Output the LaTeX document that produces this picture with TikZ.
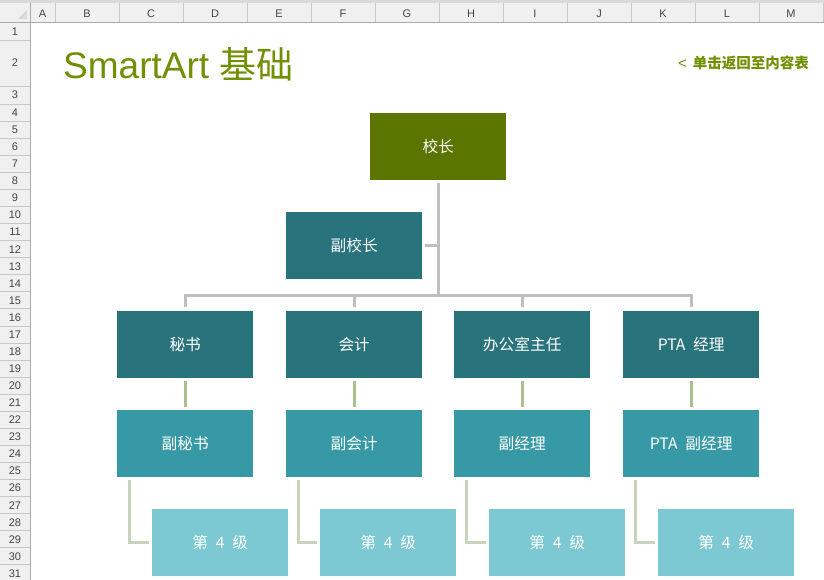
\documentclass[tikz,border=0pt]{standalone}
\usepackage{fontspec}
\setmainfont{Liberation Sans}
\newfontfamily\cjk[WordSpace=2.2]{Noto Sans CJK SC}
\definecolor{topband}{HTML}{DADADA}
\definecolor{hdrbg}{HTML}{F0F0F0}
\definecolor{hdrsep}{HTML}{C8C8C8}
\definecolor{hdrborder}{HTML}{ABABAB}
\definecolor{hdrtext}{HTML}{444444}
\definecolor{titlegreen}{HTML}{6F9000}
\definecolor{lvlA}{HTML}{5A7500}
\definecolor{lvlB}{HTML}{29737C}
\definecolor{lvlC}{HTML}{3799A5}
\definecolor{lvlD}{HTML}{7DC9D3}
\definecolor{conngray}{HTML}{BFBFBF}
\definecolor{conngreen}{HTML}{A9BF8F}
\definecolor{connlight}{HTML}{C8D3BB}
\tikzset{
  box/.style={anchor=north west, minimum width=136pt, minimum height=67pt, inner sep=0pt, draw=none, text=white, font=\cjk\fontsize{15.7}{18}\selectfont},
  boxA/.style={box, fill=lvlA},
  boxB/.style={box, fill=lvlB},
  boxC/.style={box, fill=lvlC},
  boxD/.style={box, fill=lvlD},
  conn/.style={draw=conngray, line width=3pt, line join=miter},
  gconn/.style={draw=conngreen, line width=3pt},
  lconn/.style={draw=connlight, line width=3pt, line join=miter},
  hdrlabel/.style={text=hdrtext, font=\fontsize{11}{12}\selectfont, inner sep=0pt}
}
\begin{document}
\begin{tikzpicture}[x=1pt,y=-1pt]
\useasboundingbox (0,0) rectangle (824,580);
\fill[white] (0,0) rectangle (824,580);
% sheet chrome
\fill[topband] (0,0) rectangle (824,3.5);
\fill[hdrbg] (0,3.5) rectangle (824,23);
\fill[hdrbg] (0,23) rectangle (30,580);
\foreach \xx in {55,119,183,247,311,375,439,503,567,631,695,759,823}
  \draw[hdrsep, line width=0.8pt] (\xx,3.5) -- (\xx,23);
\draw[hdrsep, line width=0.8pt] (0,40) -- (30,40);
\draw[hdrsep, line width=0.8pt] (0,86) -- (30,86);
\foreach \n in {0,...,27}
  \draw[hdrsep, line width=0.8pt] (0,{104+\n*17.07}) -- (30,{104+\n*17.07});
\draw[hdrborder, line width=1pt] (0,23) -- (824,23);
\draw[hdrborder, line width=1pt] (30,3.5) -- (30,580);
\fill[hdrsep!80!black!40] (27,10) -- (27,19) -- (18,19) -- cycle;
% column letters
\node[hdrlabel] (colA) at (42.5,13.5) {A};
\foreach \c [count=\i from 0] in {B,C,D,E,F,G,H,I,J,K,L,M}
  \node[hdrlabel] (col\c) at ({87+64*\i},13.5) {\c};
% row numbers
\node[hdrlabel] (row1) at (15,31.5) {1};
\node[hdrlabel] (row2) at (15,63) {2};
\node[hdrlabel] (row3) at (15,95) {3};
\foreach \n in {4,...,31}
  \node[hdrlabel] (row\n) at (15,{104+(\n-4)*17.07+8.6}) {\n};
% title and link
\node[anchor=base west, inner sep=0pt, text=titlegreen, font=\fontsize{37}{40}\selectfont] (title) at (63,79) {SmartArt {\cjk 基础}};
\node[anchor=east, inner sep=0pt, text=titlegreen, font=\cjk\bfseries\fontsize{14.5}{16}\selectfont] (link) at (809,62.5) {{\normalfont\fontsize{15}{16}\selectfont <}\hspace{6pt}单击返回至内容表};
% boxes
\node[boxA] (p) at (370,113) {校长};
\node[boxB] (v) at (286,212) {副校长};
\node[boxB] (b1) at (117,311) {秘书};
\node[boxB] (b2) at (286,311) {会计};
\node[boxB] (b3) at (454,311) {办公室主任};
\node[boxB] (b4) at (623,311) {PTA 经理};
\node[boxC] (c1) at (117,410) {副秘书};
\node[boxC] (c2) at (286,410) {副会计};
\node[boxC] (c3) at (454,410) {副经理};
\node[boxC] (c4) at (623,410) {PTA 副经理};
\node[boxD] (d1) at (152,509) {第 4 级};
\node[boxD] (d2) at (320,509) {第 4 级};
\node[boxD] (d3) at (489,509) {第 4 级};
\node[boxD] (d4) at (658,509) {第 4 级};
% connectors
\coordinate (bus) at (438,295.5);
\draw[conn] ([yshift=-3pt]p.south) -- (p.south |- bus);
\draw[conn] ([xshift=3pt]v.east) -- (v.east -| p.south);
\draw[conn] ([yshift=4pt]b1.north) -- (b1.north |- bus) -- (b4.north |- bus) -- ([yshift=4pt]b4.north);
\draw[conn] ([yshift=4pt]b2.north) -- (b2.north |- bus);
\draw[conn] ([yshift=4pt]b3.north) -- (b3.north |- bus);
\foreach \i in {1,2,3,4}{
  \draw[gconn] ([yshift=-3pt]b\i.south) -- ([yshift=3pt]c\i.north);
  \draw[lconn] ([xshift=12pt,yshift=-3pt]c\i.south west) |- ([xshift=-3pt]d\i.west);
}
\end{tikzpicture}
\end{document}
